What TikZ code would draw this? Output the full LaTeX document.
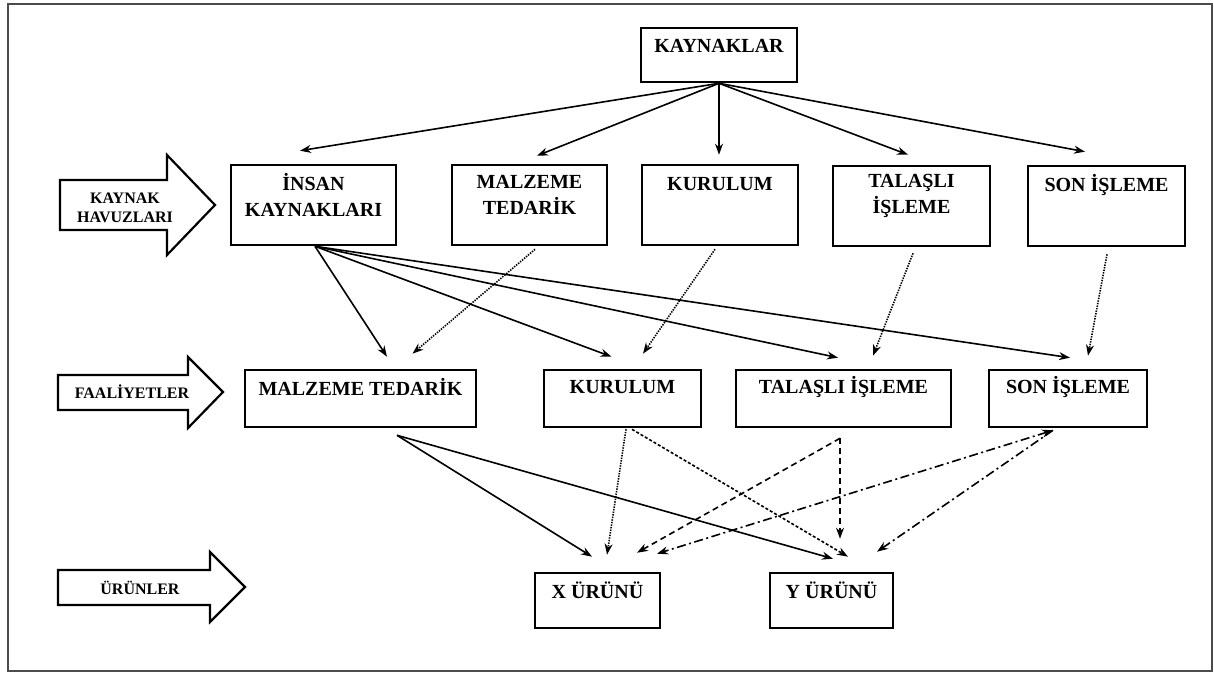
\documentclass[tikz,border=0pt]{standalone}
\usepackage{fontspec}
\setmainfont{Liberation Serif}
\usetikzlibrary{arrows.meta}
\begin{document}
\begin{tikzpicture}[x=1pt,y=-1pt,
  box/.style={draw,line width=2.6pt,inner sep=0pt},
  lbl/.style={font=\bfseries\fontsize{20}{26}\selectfont,align=center,inner sep=0pt},
  slbl/.style={font=\bfseries\fontsize{16}{19}\selectfont,align=center,inner sep=0pt},
  barrow/.style={draw,line width=2.2pt,line join=miter,fill=white},
  con/.style={line width=1.6pt,-{Stealth[length=11pt,width=8pt]}},
  dots/.style={con,dash pattern=on 1.4pt off 1.2pt},
  fdash/.style={con,dash pattern=on 3pt off 2pt},
  mdash/.style={con,dash pattern=on 6pt off 4pt},
  ddot/.style={con,dash pattern=on 9pt off 3.5pt on 2pt off 3.5pt},
]
\useasboundingbox (0,0) rectangle (1214,674);
\draw[line width=1.5pt,draw=black!70] (8,4) rectangle (1212,671);

% block arrows
\draw[barrow] (60,180) -- (167,180) -- (167,155) -- (215,205) -- (167,255) -- (167,230) -- (60,230) -- cycle;
\node[slbl] (tkh) at (125,208) {KAYNAK\\HAVUZLARI};
\draw[barrow] (58,375) -- (188,375) -- (188,357) -- (223,392) -- (188,428) -- (188,410) -- (58,410) -- cycle;
\node[slbl] (tfa) at (132,392) {FAALİYETLER};
\draw[barrow] (58,570) -- (210,570) -- (210,552) -- (245,587) -- (210,622) -- (210,605) -- (58,605) -- cycle;
\node[slbl] (tur) at (140,588) {ÜRÜNLER};

% boxes
\node[box,minimum width=156pt,minimum height=54pt] (kay) at (719,55) {};
\node[lbl] (tkay) at ([yshift=-19pt]kay.north) {KAYNAKLAR};

\node[box,minimum width=165pt,minimum height=80pt] (ik) at (313.5,205) {};
\node[lbl] (tik) at ([yshift=-31pt]ik.north) {İNSAN\\KAYNAKLARI};
\node[box,minimum width=155pt,minimum height=80pt] (mt) at (529.5,205) {};
\node[lbl] (tmt) at ([yshift=-31pt]mt.north) {MALZEME\\TEDARİK};
\node[box,minimum width=156pt,minimum height=80pt] (ku) at (720,205) {};
\node[lbl] (tku) at ([yshift=-20pt]ku.north) {KURULUM};
\node[box,minimum width=157pt,minimum height=80pt] (ta) at (911.5,206) {};
\node[lbl] (tta) at ([yshift=-31pt]ta.north) {TALAŞLI\\İŞLEME};
\node[box,minimum width=157pt,minimum height=80pt] (so) at (1106.5,206) {};
\node[lbl] (tso) at ([yshift=-20pt]so.north) {SON İŞLEME};

\node[box,minimum width=231pt,minimum height=57pt] (mt2) at (360.5,398.5) {};
\node[lbl] (tmt2) at ([yshift=-18pt]mt2.north) {MALZEME TEDARİK};
\node[box,minimum width=157pt,minimum height=57pt] (ku2) at (622.5,398.5) {};
\node[lbl] (tku2) at ([yshift=-18pt]ku2.north) {KURULUM};
\node[box,minimum width=215pt,minimum height=57pt] (ta2) at (843.5,398.5) {};
\node[lbl] (tta2) at ([yshift=-18pt]ta2.north) {TALAŞLI İŞLEME};
\node[box,minimum width=158pt,minimum height=57pt] (so2) at (1068,398.5) {};
\node[lbl] (tso2) at ([yshift=-18pt]so2.north) {SON İŞLEME};

\node[box,minimum width=125pt,minimum height=55pt] (xu) at (597.5,600.5) {};
\node[lbl] (txu) at ([yshift=-19pt]xu.north) {X ÜRÜNÜ};
\node[box,minimum width=123pt,minimum height=55pt] (yu) at (831.5,600.5) {};
\node[lbl] (tyu) at ([yshift=-19pt]yu.north) {Y ÜRÜNÜ};

% KAYNAKLAR -> pools
\draw[con] (kay.south) -- ([xshift=-13.5pt,yshift=13pt]ik.north);
\draw[con] (kay.south) -- ([xshift=7.5pt,yshift=8pt]mt.north);
\draw[con] (kay.south) -- ([xshift=-1pt,yshift=9pt]ku.north);
\draw[con] (kay.south) -- ([xshift=-3.5pt,yshift=10pt]ta.north);
\draw[con] (kay.south) -- ([xshift=-21.5pt,yshift=13pt]so.north);

% human resources -> activities
\draw[con] ([xshift=1.5pt]ik.south) -- ([xshift=26.5pt,yshift=12pt]mt2.north);
\draw[con] ([xshift=1.5pt]ik.south) -- ([xshift=-11pt,yshift=12pt]ku2.north);
\draw[con] ([xshift=1.5pt]ik.south) -- ([xshift=-5.5pt,yshift=11pt]ta2.north);
\draw[con] ([xshift=1.5pt]ik.south) -- ([xshift=2pt,yshift=11pt]so2.north);

% pools -> activities (dotted)
\draw[dots] ([xshift=5.5pt,yshift=-3pt]mt.south) -- ([xshift=52pt,yshift=15pt]mt2.north);
\draw[dots] ([xshift=-5pt,yshift=-3pt]ku.south) -- ([xshift=20.5pt,yshift=15pt]ku2.north);
\draw[dots] ([xshift=1.5pt,yshift=-6pt]ta.south) -- ([xshift=29.5pt,yshift=13pt]ta2.north);
\draw[dots] ([xshift=0.5pt,yshift=-7pt]so.south) -- ([xshift=20pt,yshift=13pt]so2.north);

% activities -> products
\draw[con] ([xshift=36.5pt,yshift=-7pt]mt2.south) -- ([xshift=-5.5pt,yshift=15pt]xu.north);
\draw[con] ([xshift=36.5pt,yshift=-7pt]mt2.south) -- ([xshift=1.5pt,yshift=13pt]yu.north);
\draw[dots] ([xshift=3.5pt,yshift=-1pt]ku2.south) -- ([xshift=9.5pt,yshift=17pt]xu.north);
\draw[fdash] ([xshift=9.5pt,yshift=-1pt]ku2.south) -- ([xshift=16.5pt,yshift=15pt]yu.north);
\draw[mdash] ([xshift=-3.5pt,yshift=-10pt]ta2.south) -- ([xshift=39.5pt,yshift=19pt]xu.north);
\draw[mdash] ([xshift=-3.5pt,yshift=-10pt]ta2.south) -- ([xshift=8.5pt,yshift=33pt]yu.north);
\draw[ddot,{Stealth[length=11pt,width=8pt]}-{Stealth[length=11pt,width=8pt]}] ([xshift=-15pt,yshift=-2pt]so2.south) -- ([xshift=59.5pt,yshift=18pt]xu.north);
\draw[ddot] ([xshift=-15pt,yshift=-2pt]so2.south) -- ([xshift=45.5pt,yshift=20pt]yu.north);
\end{tikzpicture}
\end{document}
